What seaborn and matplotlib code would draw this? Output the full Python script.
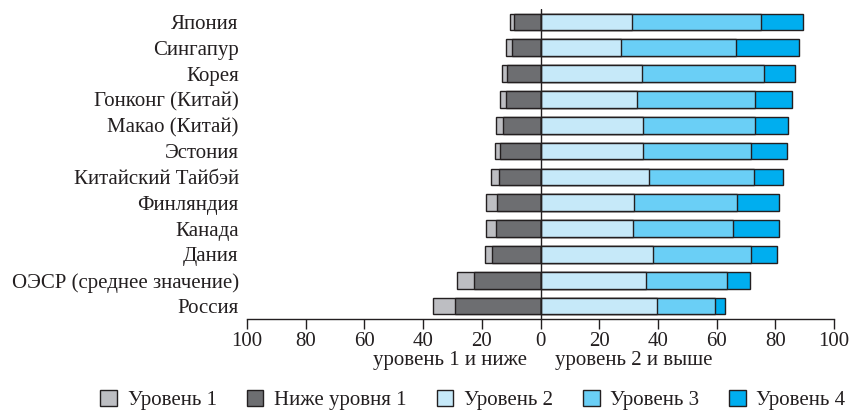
import matplotlib
matplotlib.use("Agg")
import matplotlib.pyplot as plt
import seaborn as sns
import pandas as pd
import numpy as np
from matplotlib.patches import Patch

categories = ["Япония", "Сингапур", "Корея", "Гонконг (Китай)", "Макао (Китай)",
              "Эстония", "Китайский Тайбэй", "Финляндия", "Канада", "Дания",
              "ОЭСР (среднее значение)", "Россия"]
below1 = [9.0, 9.8, 11.5, 11.8, 12.8, 13.9, 14.3, 14.8, 15.2, 16.5, 22.5, 29.3]
level1 = [1.3, 1.8, 1.7, 1.9, 2.3, 1.7, 2.5, 3.6, 3.5, 2.5, 5.9, 7.3]
level2 = [31.2, 27.5, 34.5, 33.0, 35.0, 34.8, 36.8, 32.0, 31.6, 38.4, 35.9, 39.8]
level3 = [44.0, 39.2, 41.8, 40.0, 38.1, 37.0, 35.9, 34.8, 34.1, 33.2, 27.6, 19.8]
level4 = [14.2, 21.3, 10.4, 12.8, 11.1, 12.1, 9.8, 14.4, 15.5, 8.9, 7.8, 3.2]
tick_values = [-100, -80, -60, -40, -20, 0, 20, 40, 60, 80, 100]
legend_labels = ["Уровень 1", "Ниже уровня 1", "Уровень 2", "Уровень 3", "Уровень 4"]

c_l1 = "#BDBEC2"
c_b1 = "#6D6E71"
c_l2 = "#C6E9F9"
c_l3 = "#6ACFF6"
c_l4 = "#00AEEF"
edge = "#231F20"

sns.set_theme(style="white")
plt.rcParams["font.family"] = ["Liberation Serif", "DejaVu Serif"]

df = pd.DataFrame({"cat": categories, "b1": below1, "l1": level1,
                   "l2": level2, "l3": level3, "l4": level4})
df["left_total"] = -(df["b1"] + df["l1"])
df["left_b1"] = -df["b1"]
df["r3"] = df["l2"] + df["l3"]
df["r4"] = df["l2"] + df["l3"] + df["l4"]

fig = plt.figure(figsize=(8.52, 4.11), dpi=100)
ax = fig.add_axes([247/852, 1-319/411, (834-247)/852, (319-9)/411])

kw = dict(y="cat", orient="h", width=0.65, edgecolor=edge, linewidth=1.0, ax=ax,
          order=categories, saturation=1)
sns.barplot(data=df, x="left_total", color=c_l1, **kw)
sns.barplot(data=df, x="left_b1", color=c_b1, **kw)
sns.barplot(data=df, x="r4", color=c_l4, **kw)
sns.barplot(data=df, x="r3", color=c_l3, **kw)
sns.barplot(data=df, x="l2", color=c_l2, **kw)

fs = 15
ax.axvline(0, color=edge, lw=1.0, zorder=5)
ax.set_xlim(-100, 100)
ax.set_ylim(11.5, -0.5)
ax.set_xticks(tick_values)
ax.set_xticklabels([str(abs(v)) for v in tick_values], fontsize=fs, color="#231F20")
ax.tick_params(axis="x", direction="out", length=7, width=1.0, color=edge, pad=2, bottom=True)
ax.tick_params(axis="y", length=0, pad=6, labelsize=fs, labelcolor="#231F20")
ax.set_xlabel("")
ax.set_ylabel("")
for s in ["top", "right", "left"]:
    ax.spines[s].set_visible(False)
ax.spines["bottom"].set_color(edge)
ax.spines["bottom"].set_linewidth(1.0)

fig.text((541 - 31*2.935)/852, 1-360/411, "уровень 1 и ниже", ha="center", va="center",
         fontsize=fs, color="#231F20")
fig.text((541 + 31.7*2.935)/852, 1-360/411, "уровень 2 и выше", ha="center", va="center",
         fontsize=fs, color="#231F20")

handles = [Patch(facecolor=c, edgecolor=edge, linewidth=1.0) for c in [c_l1, c_b1, c_l2, c_l3, c_l4]]
fig.legend(handles, legend_labels, loc="center", bbox_to_anchor=(473/852, 1-400/411),
           ncol=5, frameon=False, fontsize=fs, handlelength=0.8, handleheight=0.8,
           handletextpad=0.5, columnspacing=1.45, labelcolor="#231F20")

fig.savefig("out.png", dpi=100)
